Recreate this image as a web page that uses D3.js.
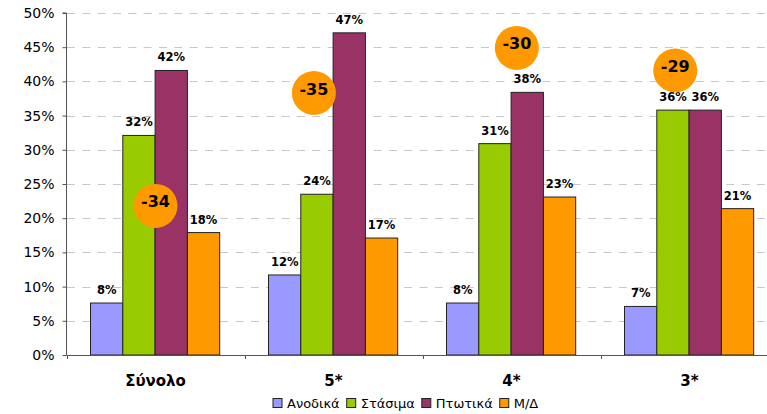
<!DOCTYPE html>
<html><head><meta charset="utf-8">
<script src="https://cdn.jsdelivr.net/npm/d3@7"></script>
<style>
html,body{margin:0;padding:0;background:#fff;}
svg{display:block;font-family:"DejaVu Sans",Verdana,sans-serif;}
</style></head>
<body><svg id="c" width="767" height="414"></svg>
<script>
const categories = ["Σύνολο", "5*", "4*", "3*"];
const seriesNames = ["Ανοδικά", "Στάσιμα", "Πτωτικά", "Μ/Δ"];
const anodika  = [7.6, 11.7, 7.6, 7.1];
const stasima  = [32.1, 23.5, 30.9, 35.8];
const ptotika  = [41.6, 47.1, 38.4, 35.8];
const md       = [17.9, 17.1, 23.1, 21.4];
const labelsAnodika = ["8%", "12%", "8%", "7%"];
const labelsStasima = ["32%", "24%", "31%", "36%"];
const labelsPtotika = ["42%", "47%", "38%", "36%"];
const labelsMd      = ["18%", "17%", "23%", "21%"];
const netBalance = ["-34", "-35", "-30", "-29"];
const netLevel   = [21.8, 38.3, 44.9, 41.6];     // vertical placement in % units
const netShift   = [0.0, -0.11, 0.03, -0.08];    // horizontal shift in category-width units
const yTicks = [0, 5, 10, 15, 20, 25, 30, 35, 40, 45, 50];

const colors = ["#9999FF", "#99CC00", "#993366", "#FF9900"];
const values = [anodika, stasima, ptotika, md];
const labels = [labelsAnodika, labelsStasima, labelsPtotika, labelsMd];

const svg = d3.select("#c");
const mLeft = 66.5, mTop = 13, mBottom = 355;
const x = d3.scaleBand().domain(categories).range([mLeft, mLeft + 4 * 178]).padding(0);
const xs = d3.scaleBand().domain(seriesNames).range([24, 24 + 4 * 32.3]).padding(0);
const y = d3.scaleLinear().domain([0, 50]).range([mBottom, mTop]);

// gridlines
svg.append("g").selectAll("line").data(yTicks.filter(d => d > 0)).join("line")
  .attr("x1", mLeft + 0.5).attr("x2", 767)
  .attr("y1", d => Math.round(y(d)) + 0.5).attr("y2", d => Math.round(y(d)) + 0.5)
  .attr("stroke", "#c8c8c8").attr("stroke-width", 1).attr("stroke-dasharray", "8,7.33");

// y axis
const yAxis = d3.axisLeft(y).tickValues(yTicks).tickFormat(d => d + "%").tickSize(4).tickPadding(8);
const ya = svg.append("g").attr("transform", `translate(${mLeft},0)`).call(yAxis);
ya.select(".domain").attr("stroke", "#555").attr("d", `M-4,${mTop}H0V${mBottom}`);
ya.selectAll(".tick line").attr("stroke", "#555");
ya.selectAll(".tick text").attr("font-size", 14).attr("fill", "#000")
  .attr("font-family", "DejaVu Sans, Verdana, sans-serif");

// bars
const groups = svg.append("g").selectAll("g").data(categories).join("g")
  .attr("transform", d => `translate(${x(d)},0)`);
seriesNames.forEach((s, si) => {
  groups.append("rect")
    .attr("x", xs(s)).attr("width", xs.bandwidth())
    .attr("y", (d, i) => y(values[si][i]))
    .attr("height", (d, i) => mBottom - y(values[si][i]))
    .attr("fill", colors[si]).attr("stroke", "#222").attr("stroke-width", 1);
  groups.append("text")
    .attr("x", xs(s) + xs.bandwidth() / 2)
    .attr("y", (d, i) => y(values[si][i]) - 9)
    .attr("text-anchor", "middle").attr("font-size", 11.5).attr("font-weight", "bold")
    .text((d, i) => labels[si][i]);
});

// x axis
const xAxis = d3.axisBottom(x).tickSize(0).tickPadding(20);
const xa = svg.append("g").attr("transform", `translate(0,${mBottom})`).call(xAxis);
xa.select(".domain").attr("stroke", "#555").attr("d", `M${mLeft},0.5H767`);
xa.selectAll(".tick text").attr("font-size", 15).attr("font-weight", "bold").attr("fill", "#000")
  .attr("font-family", "DejaVu Sans, Verdana, sans-serif");
svg.append("g").selectAll("line").data(categories).join("line")
  .attr("x1", d => Math.round(x(d)) + 0.5).attr("x2", d => Math.round(x(d)) + 0.5)
  .attr("y1", mBottom).attr("y2", mBottom + 4).attr("stroke", "#555");

// net balance circles
const ann = svg.append("g").selectAll("g").data(categories).join("g")
  .attr("transform", (d, i) => `translate(${x(d) + x.bandwidth() * (0.5 + netShift[i])},${y(netLevel[i])})`);
ann.append("circle").attr("r", 22).attr("fill", "#FF9900");
ann.append("text").attr("text-anchor", "middle").attr("dy", "0.1em")
  .attr("font-size", 16).attr("font-weight", "bold").text((d, i) => netBalance[i]);

// legend (sequential layout, centred)
const leg = svg.append("g");
const items = leg.selectAll("g").data(seriesNames).join("g");
items.append("rect").attr("y", 398.5).attr("width", 9).attr("height", 9).attr("fill", (d, i) => colors[i])
  .attr("stroke", "#222").attr("stroke-width", 1);
items.append("text").attr("x", 14).attr("y", 408).attr("font-size", 13).text(d => d);
let cx = 0;
items.each(function () {
  const w = 14 + this.querySelector("text").getComputedTextLength();
  d3.select(this).attr("data-x", cx);
  d3.select(this).attr("transform", `translate(${cx},0)`);
  cx += w + 7;
});
const total = cx - 7;
leg.attr("transform", `translate(${Math.round(405.5 - total / 2)},0)`);
</script></body></html>
